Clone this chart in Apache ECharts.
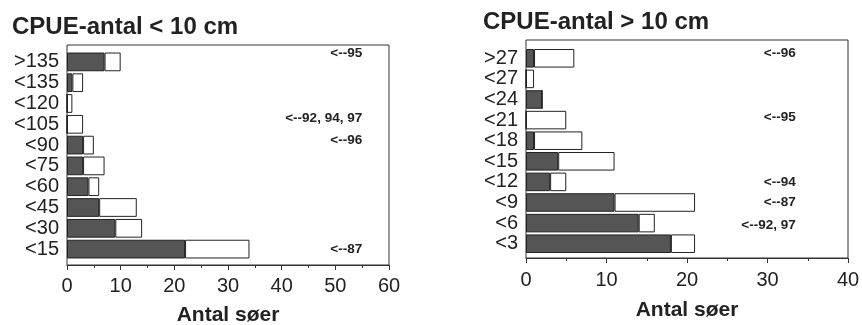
<!DOCTYPE html>
<html><head><meta charset="utf-8">
<script src="https://cdn.jsdelivr.net/npm/echarts@6/dist/echarts.min.js"></script>
<style>html,body{margin:0;padding:0;background:#fff}#c{width:862px;height:325px}</style>
</head><body><div id="c"></div>
<script>
var leftTitle = 'CPUE-antal < 10 cm';
var rightTitle = 'CPUE-antal > 10 cm';
var axisName = 'Antal søer';
var leftCats = ['<15','<30','<45','<60','<75','<90','<105','<120','<135','>135'];
var leftDark = [22,9,6,4,3,3,0,0,1,7];
var leftLight = [12,5,7,2,4,2,3,1,2,3];
var rightCats = ['<3','<6','<9','<12','<15','<18','<21','<24','<27','>27'];
var rightDark = [18,14,11,3,4,1,0,2,0,1];
var rightLight = [3,2,10,2,7,6,5,0,1,5];
var leftNoteRows = ['>135','<105','<90','<15'];
var leftNoteTexts = ['<--95','<--92, 94, 97','<--96','<--87'];
var rightNoteRows = ['>27','<21','<12','<9','<6'];
var rightNoteTexts = ['<--96','<--95','<--94','<--87','<--92, 97'];

var FONT = "'Liberation Sans', Arial, Helvetica, sans-serif";
var INK = '#222';

function notes(rows, texts, xv, dys){
  return rows.map(function(r,i){
    return {coord:[xv, r], value:texts[i], label:{offset:[0, dys[i]]}};
  });
}
var noteLabel = {show:true, position:'inside', formatter:'{c}', align:'right', verticalAlign:'middle',
  fontFamily:FONT, fontWeight:'bold', fontSize:13.5, color:INK};

var chart = echarts.init(document.getElementById('c'));
var frameX = function(gi, max, margin, gap){
  return {gridIndex:gi, type:'value', min:0, max:max, interval:10,
    axisLine:{show:true, lineStyle:{color:'#333', width:1}},
    axisTick:{show:true, inside:false, length:5, lineStyle:{color:'#333'}},
    minorTick:{show:true, splitNumber:2, length:3, lineStyle:{color:'#333'}},
    splitLine:{show:false},
    axisLabel:{fontFamily:FONT, fontSize:20, color:INK, margin:margin},
    name:axisName, nameLocation:'middle', nameGap:gap, nameMoveOverlap:false,
    nameTextStyle:{fontFamily:FONT, fontWeight:'bold', fontSize:21, color:INK}};
};
var hiddenX = function(gi, max){ return {gridIndex:gi, type:'value', min:0, max:max, show:false}; };
var catY = function(gi, cats){
  return {gridIndex:gi, type:'category', data:cats, axisLine:{show:false}, axisTick:{show:false},
    axisLabel:{interval:0, fontFamily:FONT, fontSize:20, color:INK, margin:8}};
};
var hiddenY = function(gi){ return {gridIndex:gi, type:'value', show:false}; };
var darkStyle = {color:'#555', borderColor:'#222', borderWidth:1};
var lightStyle = {color:'#fff', borderColor:'#222', borderWidth:1};
var mpStyle = {color:'rgba(0,0,0,0)'};

chart.setOption({
  animation:false,
  title:[
    {text:leftTitle, left:12, top:15, padding:0, textStyle:{fontFamily:FONT, fontWeight:'bold', fontSize:24, color:INK}},
    {text:rightTitle, left:483, top:10, padding:0, textStyle:{fontFamily:FONT, fontWeight:'bold', fontSize:24, color:INK}}
  ],
  grid:[
    {left:67, right:473, top:45, bottom:60, show:true, borderColor:'#333', borderWidth:1, outerBoundsMode:'none'},
    {left:67, right:473, top:51.5, bottom:65.5, outerBoundsMode:'none'},
    {left:526, right:14, top:40, bottom:67, show:true, borderColor:'#333', borderWidth:1, outerBoundsMode:'none'},
    {left:526, right:14, top:48, bottom:71, outerBoundsMode:'none'}
  ],
  xAxis:[frameX(0,60,11,40), hiddenX(1,60), frameX(2,40,12,42), hiddenX(3,40)],
  yAxis:[hiddenY(0), catY(1,leftCats), hiddenY(2), catY(3,rightCats)],
  series:[
    {type:'bar', xAxisIndex:1, yAxisIndex:1, stack:'L', data:leftDark, barCategoryGap:'10%', itemStyle:darkStyle},
    {type:'bar', xAxisIndex:1, yAxisIndex:1, stack:'L', data:leftLight, barCategoryGap:'10%', itemStyle:lightStyle,
      markPoint:{symbol:'circle', symbolSize:1, itemStyle:mpStyle, label:noteLabel, data:notes(leftNoteRows, leftNoteTexts, 55, [-9,-6,-5,0])}},
    {type:'bar', xAxisIndex:3, yAxisIndex:3, stack:'R', data:rightDark, barCategoryGap:'10%', itemStyle:darkStyle},
    {type:'bar', xAxisIndex:3, yAxisIndex:3, stack:'R', data:rightLight, barCategoryGap:'10%', itemStyle:lightStyle,
      markPoint:{symbol:'circle', symbolSize:1, itemStyle:mpStyle, label:noteLabel, data:notes(rightNoteRows, rightNoteTexts, 33.5, [-5,-3,0,0,2])}}
  ]
});
</script></body></html>
